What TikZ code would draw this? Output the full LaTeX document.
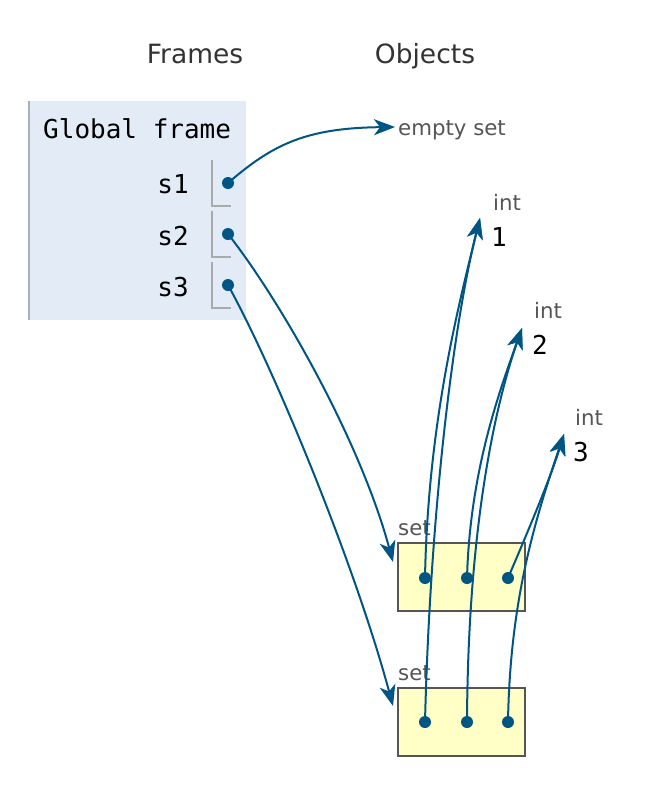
\documentclass[tikz,border=0pt]{standalone}
\usepackage{fontspec}
\setmainfont{DejaVu Sans}
\newfontfamily\codefont{DejaVu Sans Mono}
\usetikzlibrary{arrows.meta}
\definecolor{arrowc}{HTML}{005583}
\definecolor{framebg}{HTML}{E2EBF6}
\definecolor{framebd}{HTML}{A6B3B6}
\definecolor{slotc}{HTML}{AAAAAA}
\definecolor{setbg}{HTML}{FFFFC6}
\definecolor{setbd}{HTML}{555555}
\definecolor{typec}{HTML}{555555}
\definecolor{headc}{HTML}{333333}
\begin{document}
\begin{tikzpicture}[x=1pt,y=-1pt,
 head/.style={font=\fontsize{26.5}{30}\selectfont, text=headc, inner sep=0, anchor=base},
 code/.style={font=\codefont\fontsize{26}{30}\selectfont, text=black, inner sep=0},
 typelbl/.style={font=\fontsize{21.3}{24}\selectfont, text=typec, inner sep=0, anchor=base west},
 ptr/.style={circle, fill=arrowc, inner sep=0, minimum size=12pt},
 link/.style={draw=arrowc, line width=2pt, -{Stealth[length=21pt,width=16pt,inset=6pt]}},
 slot/.style={draw=slotc, line width=2pt},
 setbox/.style={draw=setbd, fill=setbg, line width=2pt, minimum width=127pt, minimum height=68pt, inner sep=0}
]
\useasboundingbox (0,0) rectangle (670,796);
% headers
\node[head] (frames) at (195,63) {Frames};
\node[head] (objects) at (425,63) {Objects};
% frame
\fill[framebg] (28,101) rectangle (246,320);
\draw[framebd, line width=2pt] (29,101) -- (29,320);
\node[code, anchor=base west] (gf) at (43,138) {Global frame};
\node[code, anchor=base east] (v1) at (189,193) {s1};
\node[code, anchor=base east] (v2) at (189,245) {s2};
\node[code, anchor=base east] (v3) at (189,296) {s3};
\draw[slot] (212,160) -- (212,206) -- (231,206);
\draw[slot] (212,211) -- (212,257) -- (231,257);
\draw[slot] (212,262) -- (212,308) -- (231,308);
\node[ptr] (d1) at (228,183) {};
\node[ptr] (d2) at (228,234) {};
\node[ptr] (d3) at (228,285) {};
% objects
\node[typelbl] (eslbl) at (398,135) {empty set};
\coordinate (es) at (395,127);
\node[typelbl] (int1lbl) at (493,210) {int};
\node[code, anchor=base west] (int1) at (491,246) {1};
\coordinate (i1) at (480,218);
\node[typelbl] (int2lbl) at (534,318) {int};
\node[code, anchor=base west] (int2) at (532,354) {2};
\coordinate (i2) at (522,328);
\node[typelbl] (int3lbl) at (575,425) {int};
\node[code, anchor=base west] (int3) at (573,461) {3};
\coordinate (i3) at (564,434);
\node[typelbl] (set1lbl) at (398,535) {set};
\node[setbox] (set1) at (461.5,577) {};
\node[typelbl] (set2lbl) at (398,680) {set};
\node[setbox] (set2) at (461.5,721.5) {};
\coordinate (s1in) at (393,562);
\coordinate (s2in) at (393,706);
\node[ptr] (a1) at (425,578) {};
\node[ptr] (a2) at (467,578) {};
\node[ptr] (a3) at (508,578) {};
\node[ptr] (b1) at (425,722) {};
\node[ptr] (b2) at (467,722) {};
\node[ptr] (b3) at (508,722) {};
% links
\draw[link] (d1.center) .. controls (272,145) and (305,128) .. (es);
\draw[link] (d2.center) .. controls (280,300) and (360,440) .. (s1in);
\draw[link] (d3.center) .. controls (275,370) and (355,565) .. (s2in);
\draw[link] (a1.center) .. controls (428,420) and (460,300) .. (i1);
\draw[link] (b1.center) .. controls (430,520) and (452,330) .. (i1);
\draw[link] (a2.center) .. controls (470,470) and (500,390) .. (i2);
\draw[link] (b2.center) .. controls (468,520) and (497,400) .. (i2);
\draw[link] (a3.center) .. controls (520,550) and (550,480) .. (i3);
\draw[link] (b3.center) .. controls (510,600) and (535,520) .. (i3);
\end{tikzpicture}
\end{document}
